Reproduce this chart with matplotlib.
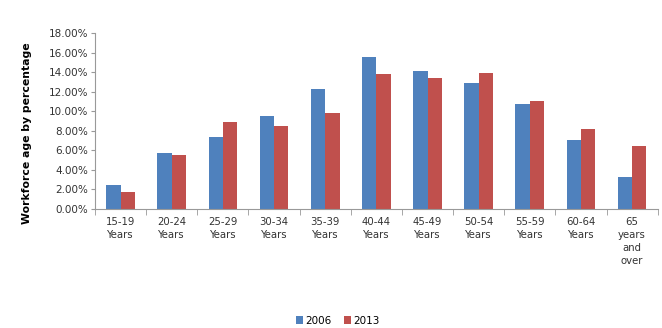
import numpy as np
import matplotlib.pyplot as plt
from matplotlib.ticker import MultipleLocator, FuncFormatter, FixedLocator

categories = ['15-19\nYears', '20-24\nYears', '25-29\nYears', '30-34\nYears', '35-39\nYears',
              '40-44\nYears', '45-49\nYears', '50-54\nYears', '55-59\nYears', '60-64\nYears',
              '65\nyears\nand\nover']
y2006 = [2.45, 5.7, 7.4, 9.5, 12.3, 15.6, 14.1, 12.9, 10.7, 7.1, 3.3]
y2013 = [1.77, 5.5, 8.9, 8.5, 9.8, 13.8, 13.4, 13.9, 11.1, 8.2, 6.4]

fig = plt.figure(figsize=(6.62, 3.28), dpi=100)
ax = fig.add_axes([0.1435, 0.363, 0.85, 0.536])

x = np.arange(len(categories))
w = 0.28
ax.bar(x - w / 2, y2006, w, color='#4F81BD', label='2006')
ax.bar(x + w / 2, y2013, w, color='#C0504D', label='2013')

ax.set_xlim(-0.5, len(categories) - 0.5)
ax.set_ylim(0, 18)
ax.yaxis.set_major_locator(MultipleLocator(2))
ax.yaxis.set_major_formatter(FuncFormatter(lambda v, p: '%.2f%%' % v))

ax.set_xticks(x)
ax.set_xticklabels(categories, fontsize=7.3, linespacing=1.35, va='top', color='#333333')
ax.tick_params(axis='x', which='major', length=0, pad=6)
ax.xaxis.set_minor_locator(FixedLocator(np.arange(-0.5, len(categories), 1)))
ax.tick_params(axis='x', which='minor', length=4, color='#999999')
ax.tick_params(axis='y', labelsize=7.5, length=3, color='#999999', labelcolor='#333333', pad=2)

for s in ['top', 'right']:
    ax.spines[s].set_visible(False)
for s in ['left', 'bottom']:
    ax.spines[s].set_color('#999999')
    ax.spines[s].set_linewidth(0.8)

ax.set_ylabel('Workforce age by percentage', fontsize=7.8, fontweight='bold', labelpad=5)
ax.yaxis.set_label_coords(-0.112, 0.43)

fig.legend(loc='center', bbox_to_anchor=(0.51, 0.022), ncol=2, frameon=False,
           fontsize=7.5, handlelength=0.7, handleheight=0.7, handletextpad=0.2, columnspacing=1.2)

fig.savefig('out.png', dpi=100)
